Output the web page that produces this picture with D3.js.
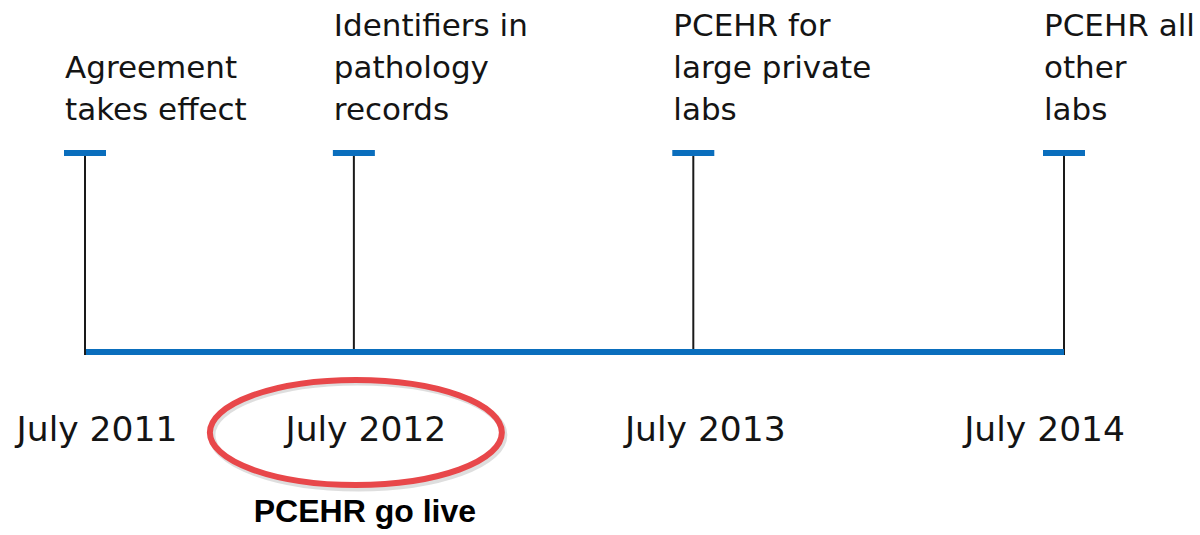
<!DOCTYPE html>
<html>
<head>
<meta charset="utf-8">
<script src="https://cdnjs.cloudflare.com/ajax/libs/d3/7.8.5/d3.min.js"></script>
<style>
  html, body { margin: 0; padding: 0; background: #fff; }
  svg { display: block; }
</style>
</head>
<body>
<div class="chart"></div>
<script>
// milestones (dates estimated from stem positions)
const eventDates = ['2011-07-01', '2012-04-27', '2013-05-12', '2014-07-01'];
const eventLabels = [
    ['Agreement', 'takes effect'],
    ['Identifiers in', 'pathology', 'records'],
    ['PCEHR for', 'large private', 'labs'],
    ['PCEHR all', 'other', 'labs']
];
const tickLabels = ['July 2011', 'July 2012', 'July 2013', 'July 2014'];
const highlightIndex = 1;
const highlightNote = 'PCEHR go live';

const width = 1200, height = 535;
const blue = '#0a6ebd';
const parse = d3.timeParse('%Y-%m-%d');

const events = eventDates.map((d, i) => ({date: parse(d), lines: eventLabels[i], tick: tickLabels[i]}));

let svg = d3.select('.chart')
    .append('svg')
    .attr('width', width)
    .attr('height', height);

const xScale = d3.scaleTime()
    .domain([parse(eventDates[0]), parse(eventDates[eventDates.length - 1])])
    .range([85, 1064]);

const baseY = 352, capY = 153, textBottom = 120, lineH = 42;

// stems
svg.selectAll('line.stem')
    .data(events)
    .enter()
    .append('line')
    .attr('class', 'stem')
    .attr('x1', d => xScale(d.date))
    .attr('x2', d => xScale(d.date))
    .attr('y1', capY)
    .attr('y2', baseY + 3)
    .attr('stroke', '#1a1a1a')
    .attr('stroke-width', 2);

// baseline
svg.append('line')
    .attr('x1', xScale.range()[0] + 1)
    .attr('x2', xScale.range()[1])
    .attr('y1', baseY)
    .attr('y2', baseY)
    .attr('stroke', blue)
    .attr('stroke-width', 6);

// caps
svg.selectAll('rect.cap')
    .data(events)
    .enter()
    .append('rect')
    .attr('class', 'cap')
    .attr('x', d => xScale(d.date) - 21)
    .attr('y', capY - 3)
    .attr('width', 42)
    .attr('height', 6)
    .attr('fill', blue);

// event labels
let labels = svg.selectAll('text.event')
    .data(events)
    .enter()
    .append('text')
    .attr('class', 'event')
    .attr('font-family', '"DejaVu Sans", Verdana, sans-serif')
    .attr('font-size', 31)
    .attr('fill', '#141414')
    .attr('transform', d => `translate(${xScale(d.date) - 20},${textBottom - (d.lines.length - 1) * lineH})`);

labels.selectAll('tspan')
    .data(d => d.lines)
    .enter()
    .append('tspan')
    .attr('x', 0)
    .attr('dy', (d, i) => i === 0 ? 0 : lineH)
    .text(d => d);

// date labels
svg.selectAll('text.tick')
    .data(events)
    .enter()
    .append('text')
    .attr('class', 'tick')
    .text(d => d.tick)
    .attr('x', (d, i) => i === events.length - 1 ? xScale(d.date) + 61 : xScale(d.date) + 12)
    .attr('y', 441)
    .attr('text-anchor', (d, i) => i === events.length - 1 ? 'end' : 'middle')
    .attr('font-family', '"DejaVu Sans", Verdana, sans-serif')
    .attr('font-size', 34.5)
    .attr('fill', '#141414');

// highlight ellipse
const hx = xScale(events[highlightIndex].date) + 2;
svg.append('ellipse')
    .attr('cx', hx + 2)
    .attr('cy', 435)
    .attr('rx', 146)
    .attr('ry', 53)
    .attr('fill', 'none')
    .attr('stroke', '#a0a0a0')
    .attr('stroke-opacity', 0.35)
    .attr('stroke-width', 7);

svg.append('ellipse')
    .attr('cx', hx)
    .attr('cy', 432.5)
    .attr('rx', 146)
    .attr('ry', 52.5)
    .attr('fill', 'none')
    .attr('stroke', '#e8474a')
    .attr('stroke-width', 6);

svg.append('text')
    .text(highlightNote)
    .attr('x', hx + 9)
    .attr('y', 522)
    .attr('text-anchor', 'middle')
    .attr('font-family', '"Liberation Sans", Arial, sans-serif')
    .attr('font-weight', 'bold')
    .attr('font-size', 32)
    .attr('fill', '#000');
</script>
</body>
</html>
